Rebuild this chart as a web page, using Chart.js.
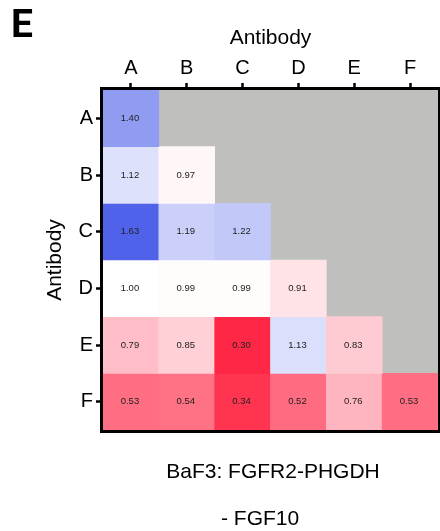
<!DOCTYPE html>
<html>
<head>
<meta charset="utf-8">
<script src="https://cdn.jsdelivr.net/npm/chart.js@4/dist/chart.umd.min.js"></script>
<style>
  html, body { margin: 0; padding: 0; background: #ffffff; }
  canvas { display: block; }
</style>
</head>
<body>
<canvas id="heat" width="440" height="531"></canvas>
<script>
// Antibody pair matrix (lower triangle), columns A–F across the top
const colLabels = ['A', 'B', 'C', 'D', 'E', 'F'];
const rowLabels = ['A', 'B', 'C', 'D', 'E', 'F'];
const rowA = [1.40];
const rowB = [1.12, 0.97];
const rowC = [1.63, 1.19, 1.22];
const rowD = [1.00, 0.99, 0.99, 0.91];
const rowE = [0.79, 0.85, 0.30, 1.13, 0.83];
const rowF = [0.53, 0.54, 0.34, 0.52, 0.76, 0.53];
const rows = [rowA, rowB, rowC, rowD, rowE, rowF];

const axisTitle = 'Antibody';
const panelLetter = 'E';
const captionLine1 = 'BaF3: FGFR2-PHGDH';
const captionLine2 = '- FGF10';

// Diverging colour: white at 1.0, red below, blue above
function heatColor(v) {
  if (v <= 1) {
    const t = Math.min(1, (1 - v) / 0.74);
    return `rgb(255, ${Math.round(255 - t * 228)}, ${Math.round(255 - t * 196)})`;
  }
  const t = Math.min(1, (v - 1) / 0.7);
  return `rgb(${Math.round(255 - t * 195)}, ${Math.round(255 - t * 175)}, ${Math.round(255 - t * 23)})`;
}

// Each row is a floating bar spanning [row, row + 1] in every filled column
const datasets = rows.map((vals, i) => ({
  label: rowLabels[i],
  data: colLabels.map((_, j) => (j < vals.length ? [i, i + 1] : null)),
  backgroundColor: (ctx) => {
    const v = vals[ctx.dataIndex];
    return v === undefined ? 'rgba(0,0,0,0)' : heatColor(v);
  },
  borderWidth: 0,
  grouped: false,
  barPercentage: 1,
  categoryPercentage: 1
}));

const FONT = "'Liberation Sans', Arial, sans-serif";

const panelBackground = {
  id: 'panelBackground',
  beforeDatasetsDraw(chart) {
    const { ctx, chartArea: a } = chart;
    ctx.save();
    ctx.fillStyle = '#bfbfbd';
    ctx.fillRect(a.left, a.top, a.right - a.left, a.bottom - a.top);
    ctx.restore();
  }
};

const cellValues = {
  id: 'cellValues',
  afterDatasetsDraw(chart) {
    const { ctx, chartArea: a } = chart;
    ctx.save();
    ctx.font = `9.5px ${FONT}`;
    ctx.fillStyle = '#222222';
    ctx.textAlign = 'center';
    ctx.textBaseline = 'middle';
    chart.data.datasets.forEach((ds, i) => {
      const meta = chart.getDatasetMeta(i);
      rows[i].forEach((v, j) => {
        const bar = meta.data[j];
        if (!bar) return;
        const cy = (bar.y + bar.base) / 2;
        ctx.fillText(v.toFixed(2), bar.x - 1, cy);
      });
    });
    // frame around the plot
    ctx.strokeStyle = '#000000';
    ctx.lineWidth = 3;
    ctx.strokeRect(a.left - 1.5, a.top - 1.5, a.right - a.left + 3, a.bottom - a.top + 3);
    ctx.restore();
  }
};

const captions = {
  id: 'captions',
  afterDraw(chart) {
    const { ctx } = chart;
    ctx.save();
    ctx.fillStyle = '#000000';
    ctx.textBaseline = 'alphabetic';
    ctx.textAlign = 'left';
    ctx.font = `bold 39px Roboto, ${FONT}`;
    ctx.fillText(panelLetter, 11, 37);
    ctx.font = `21px ${FONT}`;
    ctx.textAlign = 'center';
    ctx.fillText(captionLine1, 273, 478);
    ctx.textAlign = 'left';
    ctx.fillText(captionLine2, 221, 525);
    ctx.restore();
  }
};

new Chart(document.getElementById('heat'), {
  type: 'bar',
  data: { labels: colLabels, datasets },
  options: {
    responsive: false,
    animation: false,
    layout: { padding: { left: 0, top: 0, right: 2, bottom: 101 } },
    plugins: {
      legend: { display: false },
      tooltip: { enabled: false }
    },
    scales: {
      x: {
        position: 'top',
        offset: true,
        grid: {
          offset: false,
          drawOnChartArea: false,
          drawTicks: true,
          tickLength: 7,
          tickWidth: 2.5,
          tickColor: '#000000'
        },
        border: { display: false },
        ticks: { color: '#000000', padding: 3, font: { family: FONT, size: 20 } },
        title: {
          display: true,
          text: axisTitle,
          color: '#000000',
          font: { family: FONT, size: 21 },
          padding: { top: 26, bottom: 0 }
        },
        afterFit(scale) { scale.height = 90; }
      },
      y: {
        type: 'linear',
        min: 0,
        max: 6,
        reverse: true,
        afterBuildTicks(scale) {
          scale.ticks = rowLabels.map((_, i) => ({ value: i + 0.5 }));
        },
        grid: {
          drawOnChartArea: false,
          drawTicks: true,
          tickLength: 7,
          tickWidth: 2.5,
          tickColor: '#000000'
        },
        border: { display: false },
        ticks: {
          color: '#000000',
          padding: 3,
          font: { family: FONT, size: 20 },
          callback: (value, index) => rowLabels[index]
        },
        title: {
          display: true,
          text: axisTitle,
          color: '#000000',
          font: { family: FONT, size: 21 },
          padding: { top: 43, bottom: 0 }
        },
        afterFit(scale) { scale.width = 103; }
      }
    }
  },
  plugins: [panelBackground, cellValues, captions]
});
</script>
</body>
</html>
